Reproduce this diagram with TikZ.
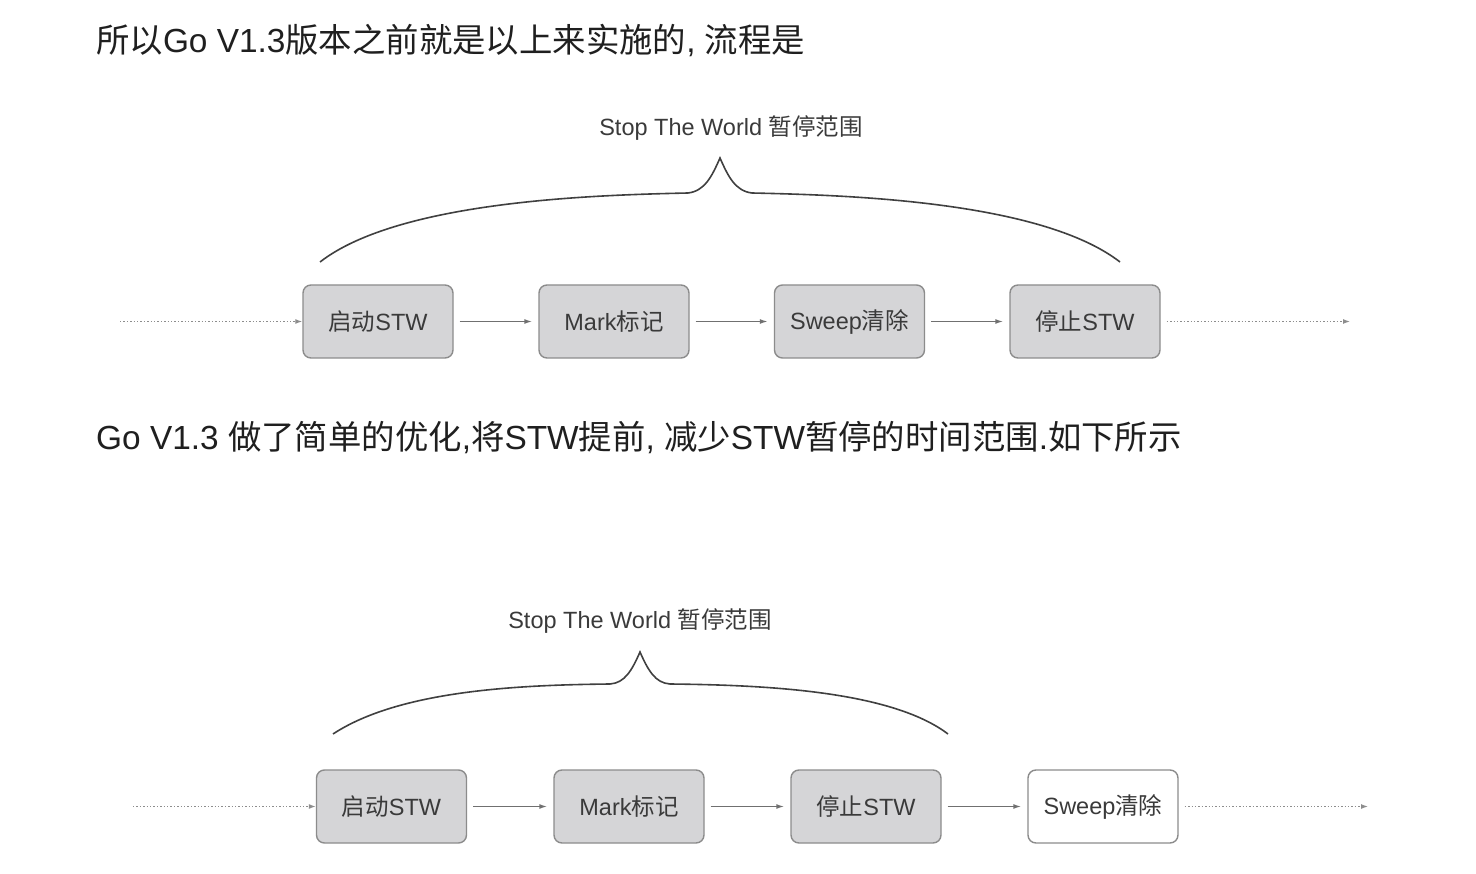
\documentclass[tikz,border=0pt]{standalone}
\usepackage{fontspec}
\setmainfont{Noto Sans CJK SC}
\newfontfamily\lat{Liberation Sans}
\usetikzlibrary{arrows.meta}
\definecolor{boxfill}{HTML}{D5D5D7}
\definecolor{boxline}{HTML}{8C8C8C}
\definecolor{ink}{HTML}{3A3A3A}
\definecolor{flow}{HTML}{707070}
\newcommand{\la}[1]{{\lat #1}}
\begin{document}
\begin{tikzpicture}[x=1pt,y=-1pt,
  stage/.style={draw=boxline, line width=1.4pt, fill=boxfill, rounded corners=8pt,
    minimum width=150pt, minimum height=73pt, inner sep=0pt,
    font=\fontsize{23.5}{28}\selectfont, text=ink},
  openstage/.style={stage, fill=white},
  headline/.style={anchor=base west, inner sep=0pt, font=\fontsize{33.4}{40}\selectfont, text=black!88},
  scope label/.style={inner sep=0pt, font=\fontsize{23.5}{28}\selectfont, text=ink},
  link/.style={draw=flow, line width=1.4pt, -{Latex[length=8pt,width=5pt]}, shorten <=6pt, shorten >=6pt},
  idle/.style={draw=flow!80, line width=1.2pt, dash pattern=on 1.4pt off 2pt, -{Latex[length=7pt,width=5pt]}},
  bracket/.style={draw=black!75, line width=1.6pt}
]
\useasboundingbox[fill=white] (0,0) rectangle (1476,874);

% ---- before Go V1.3 ----
\node[headline] (h1) at (96,53) {所以\la{Go V1.3}版本之前就是以上来实施的\la{, }流程是};

\node[scope label] (l1) at (731,128) {\la{Stop The World }暂停范围};
\draw[bracket] (320,262) .. controls (400,200) and (600,195) .. (688,193)
  .. controls (705,191) and (712,176) .. (720,158)
  .. controls (728,176) and (735,191) .. (752,193)
  .. controls (840,195) and (1040,200) .. (1120,262);

\node[stage] (a1) at (378,321.5) {启动\la{STW}};
\node[stage] (a2) at (614,321.5) {\la{Mark}标记};
\node[stage] (a3) at (849.5,321.5) {\la{Sweep}清除};
\node[stage] (a4) at (1085,321.5) {停止\la{STW}};
\coordinate (ain) at (120,321.5);
\coordinate (aout) at (1350,321.5);
\draw[idle] (ain) -- (a1.west);
\draw[link] (a1) -- (a2);
\draw[link] (a2) -- (a3);
\draw[link] (a3) -- (a4);
\draw[idle, shorten <=6pt] (a4.east) -- (aout);

% ---- Go V1.3 ----
\node[headline] (h2) at (96,450) {\la{Go V1.3 }做了简单的优化\la{,}将\la{STW}提前\la{, }减少\la{STW}暂停的时间范围\la{.}如下所示};

\node[scope label] (l2) at (640,621) {\la{Stop The World }暂停范围};
\draw[bracket] (333,734) .. controls (400,690) and (520,685) .. (610,684)
  .. controls (625,683) and (632,670) .. (640,652)
  .. controls (648,670) and (655,683) .. (670,684)
  .. controls (760,685) and (890,690) .. (948,734);

\node[stage] (b1) at (391.5,806.5) {启动\la{STW}};
\node[stage] (b2) at (629,806.5) {\la{Mark}标记};
\node[stage] (b3) at (866,806.5) {停止\la{STW}};
\node[openstage] (b4) at (1103,806.5) {\la{Sweep}清除};
\coordinate (bin) at (133,806.5);
\coordinate (bout) at (1368,806.5);
\draw[idle] (bin) -- (b1.west);
\draw[link] (b1) -- (b2);
\draw[link] (b2) -- (b3);
\draw[link] (b3) -- (b4);
\draw[idle, shorten <=6pt] (b4.east) -- (bout);
\end{tikzpicture}
\end{document}
